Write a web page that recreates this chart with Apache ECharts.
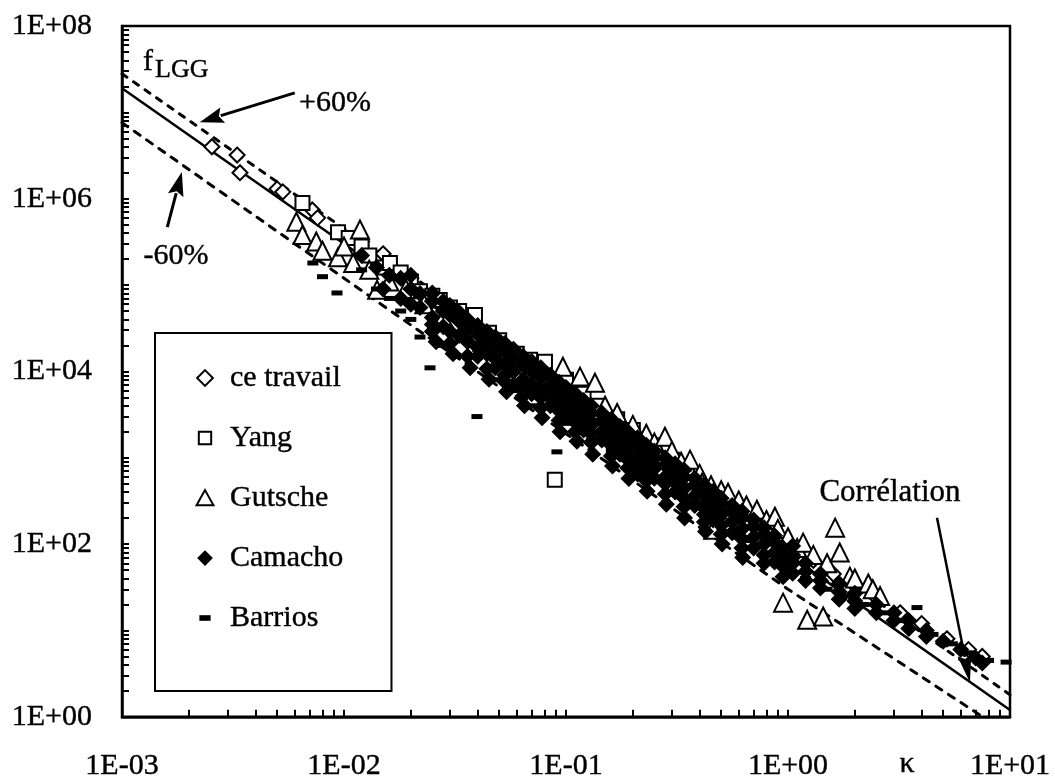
<!DOCTYPE html>
<html>
<head>
<meta charset="utf-8">
<script src="https://cdn.jsdelivr.net/npm/echarts@6/dist/echarts.min.js"></script>
<style>
  html, body { margin: 0; padding: 0; background: #fff; }
  #chart { width: 1055px; height: 781px; }
</style>
</head>
<body>
<div id="chart"></div>
<script>
// Axis ticks and labels (log scales, one decade per major tick)
const xTickValues = [1e-3, 1e-2, 1e-1, 1, 10];
const xTickLabels = ['1E-03', '1E-02', '1E-01', '1E+00', '1E+01'];
const yTickValues = [1, 1e2, 1e4, 1e6, 1e8];
const yTickLabels = ['1E+00', '1E+02', '1E+04', '1E+06', '1E+08'];
const xDecades = [1e-3, 1e-2, 1e-1, 1];
const yDecades = [1, 1e1, 1e2, 1e3, 1e4, 1e5, 1e6, 1e7];
const tickMultiples = [1, 2, 3, 4, 5, 6, 7, 8, 9];

// f_LGG correlation and the +/-60 % band
const kappaLine = [1e-3, 1e-2, 1e-1, 1, 10];
const fLGG = [1.9e7, 3.0e5, 4.8e3, 76, 1.2];
const fPlus60 = [2.8e7, 4.5e5, 7.2e3, 115, 1.8];
const fMinus60 = [7.6e6, 1.2e5, 1.9e3, 30, 0.62];

// Measurements [kappa, f]
const ceTravail = [
  [2.54e-3, 4.0e6], [3.3e-3, 3.2e6], [3.4e-3, 2.0e6], [5.0e-3, 1.3e6], [5.3e-3, 1.2e6],
  [7.2e-3, 7.4e5], [7.6e-3, 6.0e5], [0.012, 3.2e5], [0.015, 2.3e5], [0.02, 1.2e5],
  [0.025, 8e4], [0.035, 4e4], [0.045, 2.6e4], [0.06, 1.5e4], [0.08, 8.5e3],
  [0.11, 5e3], [0.15, 3e3], [0.2, 1.7e3], [0.27, 1e3], [0.35, 650], [0.45, 400],
  [0.6, 260], [0.75, 170], [0.9, 120], [1.1, 80], [1.3, 65], [1.6, 45], [2.0, 33],
  [2.5, 24], [3.2, 16], [4.0, 12], [5.2, 8], [6.5, 6], [7.5, 5]
];
const yang = [
  [6.5e-3, 8.9e5], [9.4e-3, 4.1e5], [0.0105, 3.5e5], [0.012, 2.8e5], [0.013, 2.2e5],
  [0.015, 1.6e5], [0.0161, 1.8e5], [0.018, 1.4e5], [0.02, 1.1e5], [0.022, 8.5e4],
  [0.025, 7.5e4], [0.027, 6.7e4], [0.03, 5.5e4], [0.033, 5e4], [0.0389, 4.5e4],
  [0.045, 2.8e4], [0.05, 2.3e4], [0.0542, 1.64e4], [0.06, 1.6e4], [0.0689, 1.36e4],
  [0.075, 1.1e4], [0.0804, 1.29e4], [0.09, 8e3], [0.1, 8e3], [0.12, 5.5e3],
  [0.14, 4e3], [0.17, 2.8e3], [0.2, 2.1e3], [0.25, 1.4e3], [0.3, 950], [0.35, 720],
  [0.089, 556]
];
const gutsche = [
  [6.1e-3, 5.4e5], [6.5e-3, 3.8e5], [7.5e-3, 3.2e5], [8e-3, 2.5e5], [9.4e-3, 2.1e5],
  [0.01, 2.8e5], [0.011, 1.8e5], [0.0118, 4.4e5], [0.013, 1.5e5], [0.0141, 8.8e4],
  [0.016, 1.1e5], [0.019, 9e4], [0.023, 6e4], [0.028, 4.2e4], [0.035, 2.8e4],
  [0.042, 2.2e4], [0.06, 1.2e4], [0.08, 7.5e3], [0.0968, 1.13e4], [0.1156, 8.7e3],
  [0.135, 7.4e3], [0.15, 4e3], [0.17, 3.3e3], [0.2, 2.4e3], [0.23, 1.9e3],
  [0.25, 1.5e3], [0.279, 1.75e3], [0.3, 1.2e3], [0.33, 900], [0.362, 950],
  [0.4, 650], [0.41, 514], [0.45, 480], [0.46, 147], [0.5, 420], [0.537, 394],
  [0.55, 250], [0.6, 320], [0.65, 280], [0.724, 250], [0.8, 190], [0.873, 207],
  [0.9, 150], [0.95, 21], [1.0, 120], [1.1, 90], [1.17, 104], [1.22, 13.3],
  [1.3, 75], [1.44, 14.5], [1.5, 60], [1.63, 155], [1.71, 80], [1.9, 42],
  [2.0, 40], [2.3, 35], [2.41, 30], [2.6, 25]
];
const camacho = [
  [0.012, 2.2e5], [0.014, 1.6e5], [0.015, 9e4], [0.016, 1.3e5],
  [0.018, 1.2e5], [0.018, 7e4], [0.02, 9e4], [0.02, 6e4], [0.02, 1.3e5],
  [0.022, 5.5e4], [0.022, 8e4], [0.025, 6.5e4], [0.025, 4.2e4], [0.025, 3.5e4], [0.025, 8e4],
  [0.025, 2.9e4], [0.026, 2.2e4],
  [0.028, 5e4], [0.028, 3.3e4], [0.028, 6.5e4], [0.03, 4.5e4], [0.03, 2.9e4], [0.03, 5.8e4],
  [0.03, 2.1e4], [0.031, 1.6e4],
  [0.033, 3.8e4], [0.033, 2.6e4], [0.033, 4.8e4], [0.036, 3.2e4], [0.036, 2.2e4], [0.036, 4e4],
  [0.036, 1.5e4], [0.037, 1.1e4],
  [0.04, 2.7e4], [0.04, 1.9e4], [0.04, 3.4e4], [0.04, 1.5e4], [0.044, 2.3e4], [0.044, 1.6e4],
  [0.044, 2.9e4], [0.044, 1.07e4], [0.045, 8.1e3],
  [0.048, 2e4], [0.048, 1.4e4], [0.048, 2.5e4], [0.048, 1.1e4],
  [0.053, 1.7e4], [0.053, 1.2e4], [0.053, 2.1e4], [0.053, 9e3], [0.053, 7.6e3], [0.054, 5.8e3],
  [0.058, 1.4e4], [0.058, 1e4], [0.058, 1.8e4], [0.058, 7e3],
  [0.064, 1.2e4], [0.064, 8e3], [0.064, 1.5e4], [0.064, 6.5e3], [0.064, 5.2e3], [0.065, 4e3],
  [0.07, 1e4], [0.07, 7e3], [0.07, 1.3e4], [0.07, 5.5e3],
  [0.077, 8.5e3], [0.077, 6e3], [0.077, 1.1e4], [0.077, 5e3], [0.077, 3.8e3], [0.078, 2.9e3],
  [0.085, 7e3], [0.085, 5e3], [0.085, 9e3], [0.085, 4e3],
  [0.093, 6e3], [0.093, 4.3e3], [0.093, 7.5e3], [0.093, 3.5e3], [0.093, 2.7e3], [0.094, 2e3],
  [0.1, 5.2e3], [0.1, 3.8e3], [0.1, 6.5e3], [0.1, 3e3],
  [0.11, 4.5e3], [0.11, 3.2e3], [0.11, 5.5e3], [0.11, 2.6e3], [0.11, 2e3], [0.112, 1.55e3],
  [0.12, 3.8e3], [0.12, 2.7e3], [0.12, 4.6e3], [0.12, 2.1e3],
  [0.13, 3.3e3], [0.13, 2.4e3], [0.13, 4e3], [0.13, 1.9e3], [0.13, 1.5e3], [0.132, 1.1e3],
  [0.145, 2.7e3], [0.145, 2e3], [0.145, 3.3e3], [0.145, 1.6e3],
  [0.16, 2.3e3], [0.16, 1.7e3], [0.16, 2.8e3], [0.16, 1.4e3], [0.16, 1.05e3], [0.162, 800],
  [0.175, 1.9e3], [0.175, 1.4e3], [0.175, 2.3e3], [0.175, 1.1e3],
  [0.19, 1.6e3], [0.19, 1.2e3], [0.19, 2e3], [0.19, 760], [0.192, 575], [0.19, 950],
  [0.21, 1.4e3], [0.21, 1e3], [0.21, 1.7e3], [0.21, 800], [0.21, 650],
  [0.23, 1.2e3], [0.23, 850], [0.23, 1.4e3], [0.23, 540], [0.232, 410], [0.23, 680],
  [0.25, 1e3], [0.25, 750], [0.25, 1.2e3], [0.25, 580],
  [0.28, 820], [0.28, 600], [0.28, 1e3], [0.28, 500], [0.28, 380], [0.283, 290],
  [0.31, 700], [0.31, 520], [0.31, 850], [0.31, 400],
  [0.34, 600], [0.34, 440], [0.34, 720], [0.34, 270], [0.342, 200], [0.34, 340],
  [0.38, 480], [0.38, 360], [0.38, 580], [0.38, 280],
  [0.42, 400], [0.42, 300], [0.42, 480], [0.42, 260], [0.42, 180], [0.425, 140], [0.42, 220],
  [0.46, 340], [0.46, 250], [0.46, 410], [0.46, 190],
  [0.5, 290], [0.5, 220], [0.5, 340], [0.5, 130], [0.505, 100], [0.5, 165],
  [0.56, 235], [0.56, 180], [0.56, 280], [0.56, 135],
  [0.62, 200], [0.62, 150], [0.62, 240], [0.62, 90], [0.625, 70], [0.62, 115],
  [0.7, 160], [0.7, 120], [0.7, 190], [0.7, 90],
  [0.78, 130], [0.78, 100], [0.78, 155], [0.78, 60], [0.78, 75],
  [0.87, 105], [0.87, 80], [0.87, 125], [0.87, 62],
  [0.95, 90], [0.95, 70], [0.95, 42], [0.95, 55], [1.05, 75], [1.05, 60], [1.05, 95], [1.05, 46],
  [1.2, 60], [1.2, 48], [1.2, 38], [1.4, 45], [1.4, 38], [1.4, 31], [1.7, 35], [1.7, 28],
  [1.7, 23], [2.0, 27], [2.0, 22], [2.0, 18], [2.5, 20], [2.5, 16], [3.0, 16], [3.0, 13],
  [3.5, 13], [3.5, 10.5], [4.2, 10], [4.2, 8.5], [5.0, 7.5], [6.0, 6], [7.0, 4.8], [7.5, 4.2]
];
const barrios = [
  [7.24e-3, 1.8e5], [8.0e-3, 1.25e5], [9.3e-3, 8.1e4], [0.012, 1.5e5], [0.014, 9e4],
  [0.016, 7e4], [0.018, 5e4], [0.02, 4e4], [0.022, 2.5e4], [0.0244, 1.1e4], [0.027, 2e4],
  [0.032, 1.5e4], [0.0397, 3.0e3], [0.05, 8e3], [0.06, 6e3], [0.07, 4e3], [0.091, 1.17e3],
  [0.1, 2.5e3], [0.13, 1.6e3], [0.16, 1.2e3], [0.2, 800], [0.25, 550], [0.3, 380],
  [0.35, 300], [0.45, 200], [0.55, 140], [0.65, 110], [0.8, 75], [1.0, 55], [1.2, 40],
  [1.5, 30], [1.8, 25], [2.2, 20], [2.7, 16], [3.2, 13], [3.81, 18.4], [4.5, 9],
  [5.5, 7], [6.5, 5.5], [8.0, 4.5], [9.6, 4.3]
];

// Arrows: [tail, head] in data coordinates
const arrowPlus60 = [[6.0e-3, 1.68e7], [2.24e-3, 7.7e6]];
const arrowMinus60 = [[1.6e-3, 4.7e5], [1.86e-3, 2.04e6]];
const arrowCorrelation = [[4.69, 202], [6.6, 2.49]];

const FONT = 'Liberation Serif';
// a hairline outline gives the glyphs a slightly heavier weight
const INK_LABEL = { textBorderColor: '#000', textBorderWidth: 0.4 };
const INK_GRAPHIC = { stroke: '#000', lineWidth: 0.4 };

function ticksFor(decades, last) {
  const out = [];
  decades.forEach(d => tickMultiples.forEach(m => out.push(d * m)));
  out.push(last);
  return out;
}
function labelFor(values, labels) {
  return function (v) {
    let best = 0, bestDiff = Infinity;
    values.forEach((t, i) => {
      const diff = Math.abs(Math.log10(v) - Math.log10(t));
      if (diff < bestDiff) { bestDiff = diff; best = i; }
    });
    return labels[best];
  };
}

const openStyle = { color: '#fff', borderColor: '#000', borderWidth: 2, opacity: 1 };
const solidStyle = { color: '#000', opacity: 1 };

// Legend glyphs drawn in a 16x16 box so they keep their proportions
const ICON_DIAMOND = 'path://M0,0M16,16M8,1L15,8L8,15L1,8Z';
const ICON_SQUARE = 'path://M0,0M16,16M2.5,2.5H13.5V13.5H2.5Z';
const ICON_TRIANGLE = 'path://M0,0M16,16M8,1L15.5,14.5H0.5Z';
const ICON_DASH = 'path://M0,0M16,16M3,5.5H13V10.5H3Z';

const chart = echarts.init(document.getElementById('chart'), null, { renderer: 'canvas' });

const option = {
  animation: false,
  backgroundColor: '#fff',
  textStyle: { fontFamily: FONT, color: '#000' },
  grid: {
    left: 122, top: 26, width: 888, height: 691,
    show: true, borderColor: '#000', borderWidth: 2.5, backgroundColor: 'transparent'
  },
  legend: {
    orient: 'vertical',
    left: 155, top: 333,
    padding: [28, 48, 56, 40],
    itemGap: 26,
    itemWidth: 40,
    itemHeight: 18,
    borderColor: '#000',
    borderWidth: 2,
    backgroundColor: '#fff',
    selectedMode: false,
    textStyle: Object.assign({ fontFamily: FONT, fontSize: 30, color: '#000', lineHeight: 34 }, INK_LABEL),
    data: [
      { name: 'ce travail', icon: ICON_DIAMOND, itemStyle: openStyle },
      { name: 'Yang', icon: ICON_SQUARE, itemStyle: openStyle },
      { name: 'Gutsche', icon: ICON_TRIANGLE, itemStyle: openStyle },
      { name: 'Camacho', icon: ICON_DIAMOND, itemStyle: solidStyle },
      { name: 'Barrios', icon: ICON_DASH, itemStyle: solidStyle }
    ]
  },
  xAxis: {
    type: 'log', logBase: 10, min: 1e-3, max: 10,
    axisLine: { show: true, onZero: false, lineStyle: { color: '#000', width: 2.5 } },
    axisTick: {
      show: true, inside: true, length: 7,
      lineStyle: { color: '#000', width: 2 },
      customValues: ticksFor(xDecades, 10)
    },
    axisLabel: Object.assign({
      show: true, margin: 34, fontFamily: FONT, fontSize: 30, color: '#000',
      customValues: xTickValues,
      formatter: labelFor(xTickValues, xTickLabels)
    }, INK_LABEL),
    splitLine: { show: false },
    minorTick: { show: false }
  },
  yAxis: {
    type: 'log', logBase: 10, min: 1, max: 1e8,
    axisLine: { show: true, onZero: false, lineStyle: { color: '#000', width: 2.5 } },
    axisTick: {
      show: true, inside: true, length: 7,
      lineStyle: { color: '#000', width: 2 },
      customValues: ticksFor(yDecades, 1e8)
    },
    axisLabel: Object.assign({
      show: true, margin: 30, fontFamily: FONT, fontSize: 30, color: '#000',
      customValues: yTickValues,
      formatter: labelFor(yTickValues, yTickLabels)
    }, INK_LABEL),
    splitLine: { show: false },
    minorTick: { show: false }
  },
  series: [
    {
      name: 'fLGG', type: 'line', symbol: 'none', silent: true, z: 1,
      data: kappaLine.map((k, i) => [k, fLGG[i]]),
      lineStyle: { color: '#000', width: 2.5 }
    },
    {
      name: '+60%', type: 'line', symbol: 'none', silent: true, z: 1,
      data: kappaLine.map((k, i) => [k, fPlus60[i]]),
      lineStyle: { color: '#000', width: 3, type: [6, 8], cap: 'round' }
    },
    {
      name: '-60%', type: 'line', symbol: 'none', silent: true, z: 1,
      data: kappaLine.map((k, i) => [k, fMinus60[i]]),
      lineStyle: { color: '#000', width: 3, type: [7, 8], cap: 'round' }
    },
    { name: 'ce travail', type: 'scatter', symbol: 'diamond', symbolSize: 15, data: ceTravail, itemStyle: openStyle, z: 2 },
    { name: 'Yang', type: 'scatter', symbol: 'rect', symbolSize: 14, data: yang, itemStyle: openStyle, z: 2 },
    { name: 'Gutsche', type: 'scatter', symbol: 'triangle', symbolSize: 18, data: gutsche, itemStyle: openStyle, z: 2 },
    { name: 'Camacho', type: 'scatter', symbol: 'diamond', symbolSize: 17, data: camacho, itemStyle: solidStyle, z: 3 },
    { name: 'Barrios', type: 'scatter', symbol: 'rect', symbolSize: [11, 5], data: barrios, itemStyle: solidStyle, z: 3 }
  ]
};
chart.setOption(option);

// Annotation arrows and labels, positioned through the axes
function px(pt) {
  return chart.convertToPixel({ xAxisIndex: 0, yAxisIndex: 0 }, pt);
}
function arrow(pair, headLen, headHalf, width) {
  const a = px(pair[0]), b = px(pair[1]);
  const dx = b[0] - a[0], dy = b[1] - a[1];
  const len = Math.sqrt(dx * dx + dy * dy);
  const ux = dx / len, uy = dy / len;
  const bx = b[0] - ux * headLen, by = b[1] - uy * headLen;
  return [
    { type: 'line', silent: true, z: 10,
      shape: { x1: a[0], y1: a[1], x2: bx + ux * 2, y2: by + uy * 2 },
      style: { stroke: '#000', lineWidth: width } },
    { type: 'polygon', silent: true, z: 10,
      shape: { points: [[b[0], b[1]], [bx - uy * headHalf, by + ux * headHalf], [bx + ux * 4, by + uy * 4], [bx + uy * headHalf, by - ux * headHalf]] },
      style: { fill: '#000' } }
  ];
}
function label(text, x, y, size, align) {
  return { type: 'text', silent: true, z: 10, x: x, y: y,
    style: Object.assign({ text: text, fontFamily: FONT, fontSize: size, fill: '#000',
      align: align || 'center', verticalAlign: 'middle' }, INK_GRAPHIC) };
}

chart.setOption({
  graphic: [].concat(
    arrow(arrowPlus60, 24, 8, 3),
    arrow(arrowMinus60, 24, 8, 3),
    arrow(arrowCorrelation, 28, 7, 2.5),
    [
      label('f', 143, 62, 30, 'left'),
      label('LGG', 155, 70, 26, 'left'),
      label('+60%', 335, 103, 30),
      label('-60%', 176, 256, 30),
      label('Corrélation', 890, 493, 31),
      label('κ', 907, 764, 30)
    ]
  )
});
</script>
</body>
</html>
